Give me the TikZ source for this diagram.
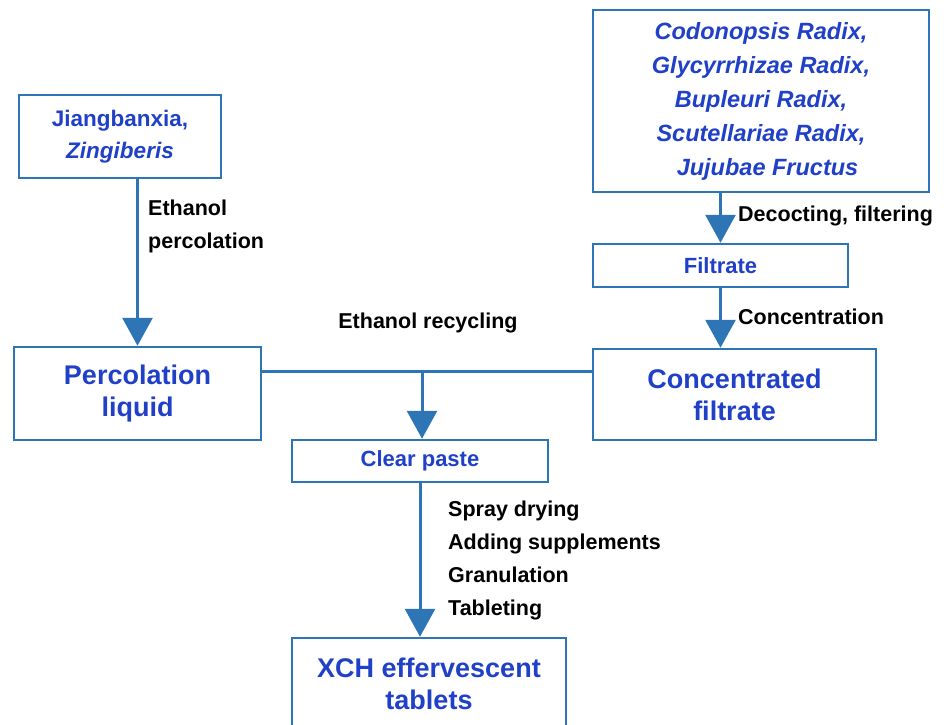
\documentclass[tikz,border=0pt]{standalone}
\usepackage{fontspec}
\setmainfont{Liberation Sans}
\usepackage{xcolor}
\usetikzlibrary{arrows.meta,positioning}
\definecolor{lineblue}{RGB}{46,117,182}
\definecolor{textblue}{RGB}{32,64,200}

\begin{document}
\begin{tikzpicture}[x=1pt, y=-1pt,
    box/.style={draw=lineblue, line width=2.5pt, fill=white, align=center,
                text=textblue, font=\bfseries\fontsize{22.5}{32}\selectfont},
    bigbox/.style={box, font=\bfseries\fontsize{27}{32}\selectfont},
    smallbox/.style={box, font=\bfseries\fontsize{22}{26}\selectfont},
    flow/.style={draw=lineblue, line width=3pt},
    flowarrow/.style={flow, arrows=-{Triangle[width=30pt,length=28pt]}},
    steplabel/.style={align=left, inner sep=0pt, text=black,
                      font=\bfseries\fontsize{21.5}{33}\selectfont}]
  \useasboundingbox (0,0) rectangle (952,724);
  \clip (0,0) rectangle (952,724);

  % Raw materials
  \node(jiang)[box, minimum width=202pt, minimum height=83pt] at (120,136.5)
       {Jiangbanxia,\\\textit{Zingiberis}};
  \node(herbs)[box, minimum width=336pt, minimum height=182pt,
       font=\bfseries\itshape\fontsize{23.5}{34}\selectfont] at (761,101)
       {Codonopsis Radix,\\Glycyrrhizae Radix,\\Bupleuri Radix,\\Scutellariae Radix,\\\ \ Jujubae Fructus};

  % Intermediate products
  \node(filtrate)[smallbox, minimum width=255pt, minimum height=43pt] at (720.5,265.5) {Filtrate};
  \node(perc)[bigbox, minimum width=247pt, minimum height=93pt] at (137.5,393.5) {Percolation\\liquid};
  \node(conc)[bigbox, minimum width=283pt, minimum height=91pt] at (734.5,394.5) {Concentrated\\filtrate};
  \node(paste)[smallbox, minimum width=256pt, minimum height=42pt] at (420,461) {Clear paste};

  % Final product
  \node(xch)[bigbox, minimum width=274pt, minimum height=91pt] at (429,683.5)
       {XCH effervescent\\tablets};

  % Process labels
  \node(lperc)[steplabel, anchor=west] at (148,226) {Ethanol\\percolation};
  \node(ldecoct)[steplabel, anchor=west] at (738,216) {Decocting, filtering};
  \node(lconc)[steplabel, anchor=west] at (738,317) {Concentration};
  \node(lrecyc)[steplabel] at (428,323) {Ethanol recycling};
  \node(lsteps)[steplabel, anchor=west] at (448,560)
       {Spray drying\\Adding supplements\\Granulation\\Tableting};

  % Connectors
  \coordinate (join) at (422,371);
  \draw[flowarrow] (jiang.south -| perc.north) -- (perc.north);
  \draw[flowarrow] (herbs.south -| filtrate.north) -- (filtrate.north);
  \draw[flowarrow] (filtrate.south) -- (filtrate.south |- conc.north);
  \draw[flow] (perc.east |- join) -- (conc.west |- join);
  \draw[flowarrow] (join) -- (join |- paste.north);
  \draw[flowarrow] (paste.south) -- (paste.south |- xch.north);

\end{tikzpicture}
\end{document}
